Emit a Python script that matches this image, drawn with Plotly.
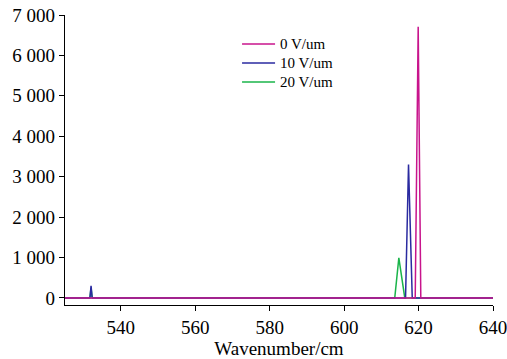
import plotly.graph_objects as go

# Data
x_0 = [525, 619.1, 619.9, 620.6, 640]
y_0 = [0, 0, 6710, 0, 0]

x_10 = [525, 531.7, 532.0, 532.3, 616.5, 617.3, 618.3, 640]
y_10 = [0, 0, 300, 0, 0, 3300, 0, 0]

x_20 = [525, 531.7, 532.0, 532.3, 613.6, 614.7, 616.3, 640]
y_20 = [0, 0, 250, 0, 0, 990, 0, 0]

names = ["0 V/um", "10 V/um", "20 V/um"]
colors = ["#c8148c", "#2a2aa0", "#1ab44a"]

x_ticks = [540, 560, 580, 600, 620, 640]
y_ticks = [0, 1000, 2000, 3000, 4000, 5000, 6000, 7000]
y_tick_labels = ["0", "1 000", "2 000", "3 000", "4 000", "5 000", "6 000", "7 000"]

FONT = "Liberation Serif"


def lg(name):
    return "<span style='font-size:15px'>" + name + "</span>"


fig = go.Figure()
fig.add_trace(go.Scatter(x=x_20, y=y_20, mode="lines", name=lg(names[2]),
                         line=dict(color=colors[2], width=1.5), legendrank=3))
fig.add_trace(go.Scatter(x=x_10, y=y_10, mode="lines", name=lg(names[1]),
                         line=dict(color=colors[1], width=1.5), legendrank=2))
fig.add_trace(go.Scatter(x=x_0, y=y_0, mode="lines", name=lg(names[0]),
                         line=dict(color=colors[0], width=1.5), legendrank=1))

fig.update_layout(
    template="none",
    width=507, height=359,
    margin=dict(l=65, r=14, t=15, b=54),
    paper_bgcolor="white", plot_bgcolor="white",
    font=dict(family=FONT, color="black", size=19),
    showlegend=True,
    legend=dict(x=0.402, y=0.95, xanchor="left", yanchor="top",
                bgcolor="rgba(0,0,0,0)", font=dict(family=FONT, size=12),
                itemwidth=33, tracegroupgap=0),
)
fig.update_xaxes(range=[525, 640], tickvals=x_ticks,
                 showline=True, linecolor="black", linewidth=1.2,
                 ticks="outside", ticklen=5, tickcolor="black",
                 showgrid=False, zeroline=False, automargin=False,
                 ticklabeloverflow="allow",
                 title=dict(text="Wavenumber/cm", standoff=2,
                            font=dict(family=FONT, size=19)),
                 tickfont=dict(family=FONT, size=19))
fig.update_yaxes(range=[-175, 7000], tickvals=y_ticks, ticktext=y_tick_labels,
                 showline=True, linecolor="black", linewidth=1.2,
                 ticks="outside", ticklen=5, tickcolor="black",
                 showgrid=False, zeroline=False, automargin=False,
                 ticklabeloverflow="allow",
                 tickfont=dict(family=FONT, size=19))

fig.write_html("out.html")
